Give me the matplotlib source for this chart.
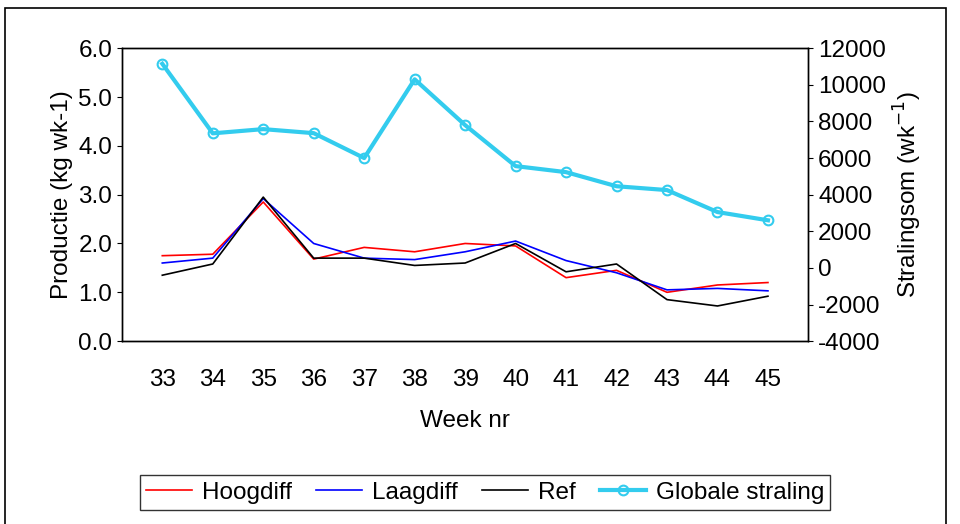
import matplotlib.pyplot as plt
from matplotlib.patches import Rectangle

weeks = [33, 34, 35, 36, 37, 38, 39, 40, 41, 42, 43, 44, 45]
hoogdiff = [1.75, 1.78, 2.85, 1.68, 1.92, 1.83, 2.0, 1.95, 1.3, 1.45, 1.0, 1.15, 1.2]
laagdiff = [1.6, 1.7, 2.92, 2.0, 1.7, 1.67, 1.83, 2.05, 1.65, 1.4, 1.05, 1.08, 1.03]
ref = [1.35, 1.58, 2.95, 1.7, 1.7, 1.55, 1.6, 2.0, 1.42, 1.58, 0.85, 0.72, 0.92]
straling = [11150, 7350, 7580, 7360, 6000, 10300, 7800, 5560, 5230, 4460, 4250, 3050, 2600]

plt.rcParams['font.family'] = ['Liberation Sans', 'DejaVu Sans']
plt.rcParams['axes.unicode_minus'] = False
fs = 17.5
fig = plt.figure(figsize=(9.6, 5.24), dpi=100)
fig.patches.append(Rectangle((0.005, -0.01), 0.98, 0.995, transform=fig.transFigure,
                             fill=False, edgecolor='black', linewidth=1.2))
ax = fig.add_axes([0.127, 0.349, 0.715, 0.559])
ax2 = ax.twinx()

l1, = ax.plot(weeks, hoogdiff, color='red', lw=1.2, label='Hoogdiff')
l2, = ax.plot(weeks, laagdiff, color='blue', lw=1.2, label='Laagdiff')
l3, = ax.plot(weeks, ref, color='black', lw=1.2, label='Ref')
l4, = ax2.plot(weeks, straling, color='#33ccee', lw=3, marker='o', ms=7,
               mfc='none', mec='#33ccee', mew=1.5, label='Globale straling')

ax.set_xlim(32.2, 45.8)
ax.set_ylim(0, 6)
ax.set_yticks([0, 1, 2, 3, 4, 5, 6])
ax.set_yticklabels([f'{v:.1f}' for v in range(7)])
ax2.set_ylim(-4000, 12000)
ax2.set_yticks(range(-4000, 12001, 2000))
ax.set_xticks(weeks)
for a in (ax, ax2):
    a.tick_params(labelsize=fs)
    for s in a.spines.values():
        s.set_linewidth(1)
ax.tick_params(axis='x', length=0, pad=20)
ax.set_xlabel('Week nr', fontsize=fs, labelpad=14)
ax.set_ylabel('Productie (kg wk-1)', fontsize=fs)
ax2.set_ylabel('Stralingsom (wk$^{-1}$)', fontsize=fs)

fig.legend(handles=[l1, l2, l3, l4], loc='center', bbox_to_anchor=(0.505, 0.06),
           ncol=4, fontsize=fs, frameon=True, fancybox=False, edgecolor='black',
           handlelength=1.9, handletextpad=0.4, columnspacing=1.0, borderpad=0.25)
fig.savefig('out.png', dpi=100)
